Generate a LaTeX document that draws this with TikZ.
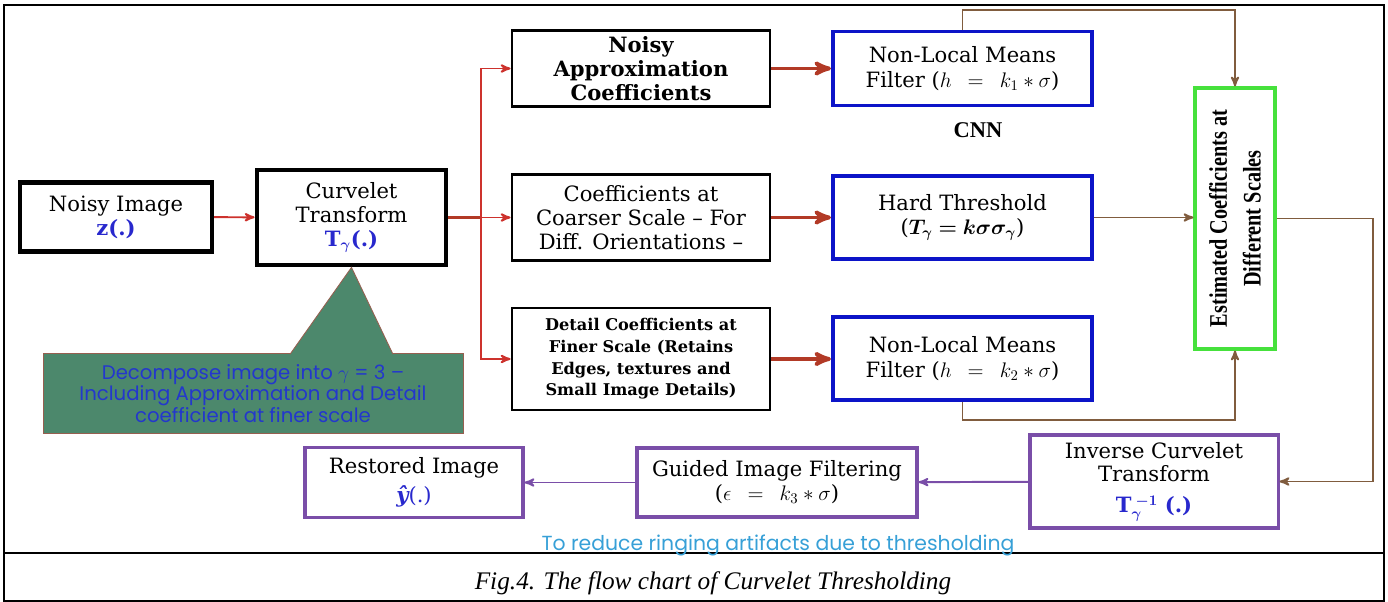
\RequirePackage{fix-cm}
\documentclass[tikz,border=0pt]{standalone}
\usepackage{fontspec}
\setmainfont{DejaVu Serif}
\newfontfamily\timesfont{Liberation Serif}
\newfontfamily\narrowtimes[FakeStretch=0.8]{Liberation Serif}
\newfontfamily\gothic{Poppins}
\usepackage{bm}
\usepackage{color, xcolor}
\usepackage{tikz}
\usetikzlibrary{positioning,calc,shapes}
\usetikzlibrary{arrows}

\definecolor{boxblue}{RGB}{12,20,200}
\definecolor{boxgreen}{RGB}{70,225,60}
\definecolor{boxviolet}{RGB}{122,78,168}
\definecolor{wirered}{RGB}{205,50,45}
\definecolor{wiredark}{RGB}{178,58,38}
\definecolor{wirebrown}{RGB}{128,92,62}
\definecolor{mathblue}{RGB}{40,40,205}
\definecolor{notefill}{RGB}{76,136,108}
\definecolor{noteedge}{RGB}{150,95,80}
\definecolor{noteblue}{RGB}{35,55,205}
\definecolor{hintcyan}{RGB}{55,160,215}

\begin{document}
\begin{tikzpicture}[x=0.025cm,y=-0.025cm,>=stealth',line join=miter]
  \tikzstyle{blackbox}=[draw=black,line width=2pt,align=center,inner sep=1pt,font=\fontsize{15}{17}\selectfont]
  \tikzstyle{bluebox}=[draw=boxblue,line width=2.8pt,align=center,inner sep=1pt,minimum width=6.475cm,font=\fontsize{15}{17.5}\selectfont]
  \tikzstyle{violetbox}=[draw=boxviolet,line width=2.2pt,align=center,inner sep=1pt,font=\fontsize{15}{17}\selectfont]
  \tikzstyle{redwire}=[draw=wirered,line width=1.4pt]
  \tikzstyle{thickwire}=[draw=wiredark,line width=2.8pt]
  \tikzstyle{brownwire}=[draw=wirebrown,line width=1.4pt]

  \useasboundingbox (0,0) rectangle (1388,602);
  \draw[line width=1.4pt] (4,5) rectangle (1384,601);
  \draw[line width=1.4pt] (4,553) -- (1384,553);

  % input side
  \node[blackbox,line width=3pt,minimum width=4.8cm,minimum height=1.725cm] (noisy) at (116,217)
    {Noisy Image\\ \textcolor{mathblue}{\bfseries z(.)}};
  \node[blackbox,line width=3.4pt,minimum width=4.725cm,minimum height=2.375cm] (cur) at (351.5,217.5)
    {Curvelet\\Transform\\ \textcolor{mathblue}{\textbf{T}$_{\bm\gamma}$\textbf{(.)}}};

  % coefficient groups
  \node[blackbox,minimum width=6.45cm,minimum height=1.9cm,font=\fontsize{15}{17}\selectfont\bfseries] (nac) at (641,68.5)
    {Noisy\\Approximation\\Coefficients};
  \node[blackbox,minimum width=6.45cm,minimum height=2.15cm] (ccs) at (641,217.5)
    {Coefficients at\\Coarser Scale -- For\\Diff. Orientations --};
  \node[blackbox,minimum width=6.45cm,minimum height=2.55cm,font=\fontsize{11.5}{15.4}\selectfont\bfseries] (dc) at (641,359)
    {Detail Coefficients at\\Finer Scale (Retains\\Edges, textures and\\Small Image Details)};

  % filters
  \node[bluebox,minimum height=1.85cm] (nlm1) at (962.5,68.5)
    {Non-Local Means\\Filter ($h\ \,=\ \,k_1 * \sigma$)};
  \node[font=\fontsize{16}{18}\selectfont\timesfont\bfseries] (cnn) at (978,130) {CNN};
  \node[bluebox,minimum height=2.075cm] (hard) at (962.5,217.5)
    {Hard Threshold\\($\bm{T_\gamma = k\sigma\sigma_\gamma}$)};
  \node[bluebox,minimum height=2.075cm] (nlm2) at (962.5,358.5)
    {Non-Local Means\\Filter ($h\ \,=\ \,k_2 * \sigma$)};

  \node[draw=boxgreen,line width=2.2pt,minimum width=2cm,minimum height=6.525cm] (green) at (1235,218.5) {};
  \node[rotate=90,align=center,font=\fontsize{18}{24}\selectfont\narrowtimes\bfseries] (greentext) at (green.center)
    {Estimated Coefficients at\\Different Scales};

  % output side
  \node[violetbox,minimum width=6.2cm,minimum height=2.325cm] (inv) at (1154,481.5)
    {Inverse Curvelet\\Transform\\[5pt] \textcolor{mathblue}{\textbf{T}$_{\bm\gamma}^{\;\bm{-1}}$ \textbf{(.)}}};
  \node[violetbox,minimum width=7cm,minimum height=1.725cm] (guided) at (777,482.5)
    {Guided Image Filtering\\($\epsilon\ \,=\ \,k_3 * \sigma$)};
  \node[violetbox,minimum width=5.45cm,minimum height=1.75cm] (restored) at (414,482.5)
    {Restored Image\\[4pt] \textcolor{mathblue}{{\bfseries\itshape ŷ}(.)}};

  % callout under the transform
  \node[fill=notefill,draw=noteedge,line width=0.6pt,minimum width=10.5cm,minimum height=2cm,align=center,
        text=noteblue,font=\fontsize{14}{14}\selectfont\gothic] (note) at (253,393.5)
    {Decompose image into $\gamma$ = 3 –\\Including Approximation and Detail\\coefficient at finer scale};
  \path[fill=notefill,draw=noteedge,line width=0.6pt] (290,354.3) -- (cur.south) -- (393,354.3);

  \node[text=hintcyan,font=\fontsize{14.5}{16}\selectfont\gothic] (hint) at (778,545)
    {To reduce ringing artifacts due to thresholding};
  \node[font=\fontsize{18}{20}\selectfont\timesfont\itshape] (caption) at (713,583)
    {Fig.4. The flow chart of Curvelet Thresholding};

  % connectors
  \coordinate (split) at (481,217.5);
  \draw[redwire,->] (noisy) -- (cur);
  \draw[thickwire] (cur.east) -- (split);
  \draw[redwire,->] (split) |- (nac.west);
  \draw[redwire,->] (split) -- (ccs.west);
  \draw[redwire,->] (split) |- (dc.west);
  \draw[thickwire,->] (nac) -- (nlm1);
  \draw[thickwire,->] (ccs) -- (hard);
  \draw[thickwire,->] (dc.east) -- (dc.east -| nlm2.west);

  \coordinate (topturn) at (1235,10);
  \coordinate (botturn) at (1235,420);
  \coordinate (rightturn) at (1373,218.5);
  \draw[brownwire,->] (nlm1.north) |- (topturn) -- (green.north);
  \draw[brownwire,->] (hard.east) -- (hard.east -| green.west);
  \draw[brownwire,->] (nlm2.south) |- (botturn) -- (green.south);
  \draw[brownwire,->] (green.east) -- (rightturn) |- (inv.east);

  \draw[draw=boxviolet,line width=1.4pt,->] (inv) -- (guided);
  \draw[draw=boxviolet,line width=1.4pt,->] (guided) -- (restored);
\end{tikzpicture}
\end{document}
